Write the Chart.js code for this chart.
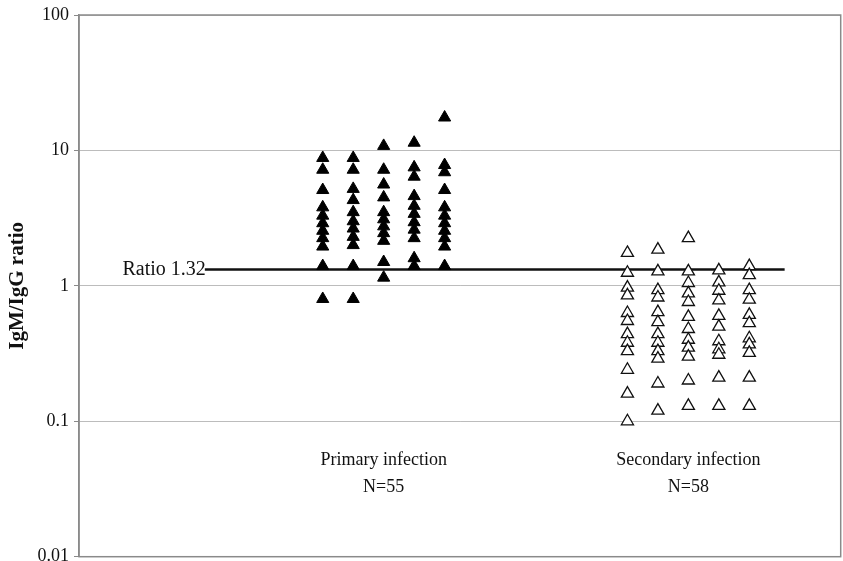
<!DOCTYPE html>
<html>
<head>
<meta charset="utf-8">
<script src="https://cdn.jsdelivr.net/npm/chart.js@4.4.1/dist/chart.umd.min.js"></script>
<style>
  html, body { margin: 0; padding: 0; background: #ffffff; overflow: hidden; }
  #wrap { width: 843px; height: 561px; overflow: hidden; position: relative; }
  #chart { position: absolute; left: 0; top: 0; }
</style>
</head>
<body>
<div id="wrap"><canvas id="chart" width="849" height="565"></canvas></div>
<script>
// Groups and their sample sizes
const groups = ['Primary infection', 'Secondary infection'];
const groupCounts = ['N=55', 'N=58'];
// Each group is plotted as five side-by-side columns of values
const columnOffsets = [-0.2, -0.1, 0, 0.1, 0.2];

// IgM/IgG ratios, primary infection
const primaryCol1 = [8.8, 7.2, 5.1, 3.8, 3.3, 2.9, 2.55, 2.25, 1.95, 1.4, 0.8];
const primaryCol2 = [8.8, 7.2, 5.2, 4.3, 3.5, 3.0, 2.65, 2.3, 2.0, 1.4, 0.8];
const primaryCol3 = [10.8, 7.2, 5.6, 4.5, 3.5, 3.1, 2.75, 2.45, 2.15, 1.5, 1.15];
const primaryCol4 = [11.4, 7.5, 6.4, 4.6, 3.9, 3.4, 2.95, 2.6, 2.25, 1.6, 1.4];
const primaryCol5 = [17.5, 7.8, 6.9, 5.1, 3.8, 3.3, 2.9, 2.55, 2.25, 1.95, 1.4];

// IgM/IgG ratios, secondary infection
const secondaryCol1 = [1.75, 1.25, 0.97, 0.85, 0.63, 0.55, 0.44, 0.38, 0.33, 0.24, 0.16, 0.1];
const secondaryCol2 = [1.85, 1.28, 0.93, 0.82, 0.64, 0.54, 0.44, 0.38, 0.33, 0.29, 0.19, 0.12];
const secondaryCol3 = [2.25, 1.28, 1.05, 0.88, 0.76, 0.59, 0.48, 0.40, 0.35, 0.30, 0.20, 0.13];
const secondaryCol4 = [1.3, 1.06, 0.92, 0.78, 0.6, 0.5, 0.39, 0.34, 0.31, 0.21, 0.13];
const secondaryCol5 = [1.4, 1.2, 0.93, 0.79, 0.61, 0.53, 0.41, 0.37, 0.32, 0.21, 0.13];

// Cut-off line
const cutoffLabel = 'Ratio 1.32';
const cutoffValue = 1.32;
const cutoffSpan = [0.413, 2.316];

// Y axis
const yTicks = [0.01, 0.1, 1, 10, 100];
const yTickLabels = ['0.01', '0.1', '1', '10', '100'];
const yTitle = 'IgM/IgG ratio';

function columnsToPoints(cols, center) {
  const pts = [];
  cols.forEach((col, i) => col.forEach(v => pts.push({ x: center + columnOffsets[i], y: v })));
  return pts;
}

const primaryPoints = columnsToPoints([primaryCol1, primaryCol2, primaryCol3, primaryCol4, primaryCol5], 1);
const secondaryPoints = columnsToPoints([secondaryCol1, secondaryCol2, secondaryCol3, secondaryCol4, secondaryCol5], 2);

const SERIF = '"Liberation Serif", "Times New Roman", serif';

// Plot frame, group captions and the cut-off label
const decorations = {
  id: 'decorations',
  beforeDatasetsDraw(chart) {
    const { ctx, chartArea: a } = chart;
    ctx.save();
    ctx.strokeStyle = '#8a8a8a';
    ctx.lineWidth = 1.5;
    ctx.strokeRect(a.left, a.top, a.right - a.left, a.bottom - a.top);
    ctx.restore();
  },
  afterDraw(chart) {
    const { ctx, scales: { x, y } } = chart;
    ctx.save();
    ctx.fillStyle = '#111111';
    ctx.font = '18px ' + SERIF;
    ctx.textAlign = 'center';
    ctx.textBaseline = 'middle';
    groups.forEach((g, i) => {
      const px = x.getPixelForValue(i + 1);
      ctx.fillText(g, px, 460);
      ctx.fillText(groupCounts[i], px, 487);
    });
    ctx.font = '20px ' + SERIF;
    ctx.textAlign = 'right';
    ctx.fillText(cutoffLabel, x.getPixelForValue(cutoffSpan[0]) + 1, y.getPixelForValue(cutoffValue));
    ctx.restore();
  }
};

new Chart(document.getElementById('chart'), {
  type: 'scatter',
  data: {
    datasets: [
      {
        type: 'line',
        data: [{ x: cutoffSpan[0], y: cutoffValue }, { x: cutoffSpan[1], y: cutoffValue }],
        borderColor: '#111111',
        borderWidth: 2.5,
        pointRadius: 0,
        fill: false,
        order: 3
      },
      {
        data: primaryPoints,
        pointStyle: 'triangle',
        pointRadius: 7,
        backgroundColor: '#000000',
        borderColor: '#000000',
        borderWidth: 1,
        order: 1
      },
      {
        data: secondaryPoints,
        pointStyle: 'triangle',
        pointRadius: 7,
        backgroundColor: '#ffffff',
        borderColor: '#111111',
        borderWidth: 1.3,
        order: 2
      }
    ]
  },
  options: {
    responsive: false,
    animation: false,
    devicePixelRatio: 1,
    events: [],
    layout: { padding: { top: 15, right: 0, bottom: 0, left: 0 } },
    plugins: { legend: { display: false }, tooltip: { enabled: false } },
    scales: {
      x: { type: 'linear', min: 0, max: 2.5, display: false },
      y: {
        type: 'logarithmic',
        min: 0.01,
        max: 100,
        afterBuildTicks(scale) { scale.ticks = yTicks.map(v => ({ value: v })); },
        afterFit(scale) {
          scale.width = 79;
          scale.paddingTop = 0;
          scale.paddingBottom = 0;
        },
        ticks: {
          color: '#111111',
          font: { family: SERIF, size: 18 },
          padding: 5,
          callback(value) {
            const i = yTicks.indexOf(value);
            return i >= 0 ? yTickLabels[i] : '';
          }
        },
        grid: {
          color: '#bcbcbc',
          lineWidth: 1,
          tickColor: '#8a8a8a',
          tickLength: 5,
          drawTicks: true
        },
        border: { display: true, color: '#8a8a8a', width: 1.5 },
        title: {
          display: true,
          text: yTitle,
          color: '#111111',
          font: { family: SERIF, size: 21, weight: 'bold' },
          padding: { top: 5, bottom: 0 }
        }
      }
    }
  },
  plugins: [decorations]
});
</script>
</body>
</html>
